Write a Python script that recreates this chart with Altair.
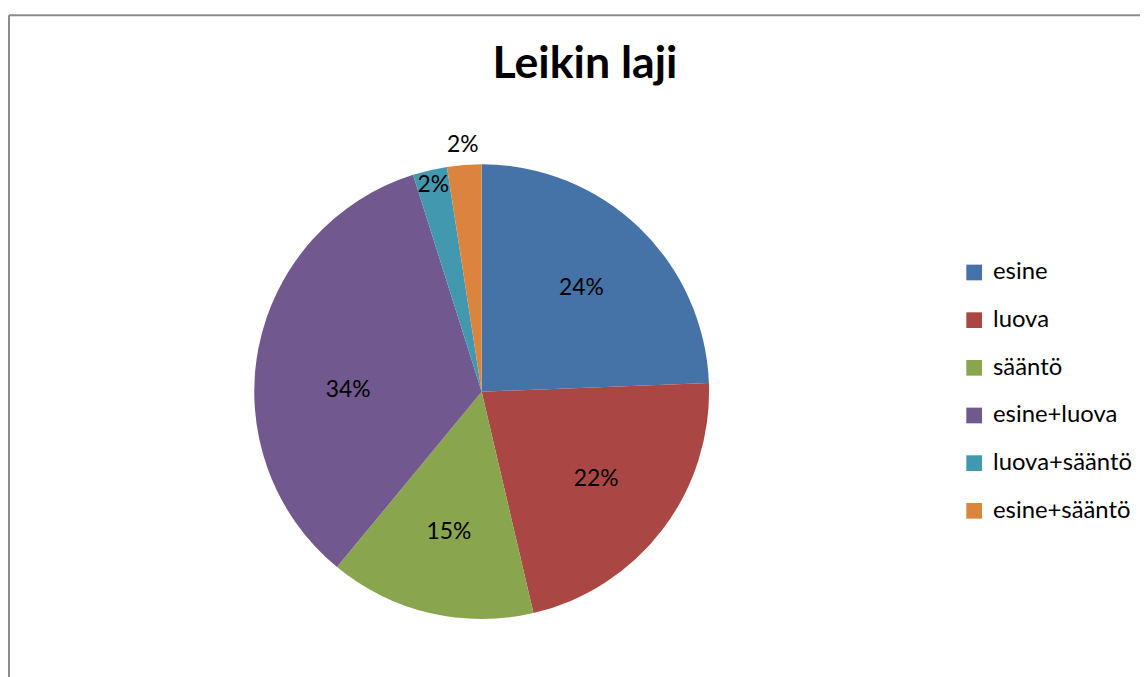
import json
import altair as alt
import pandas as pd

categories = ["esine", "luova", "sääntö", "esine+luova", "luova+sääntö", "esine+sääntö"]
counts = [10, 9, 6, 14, 1, 1]
colors = ["#4572A7", "#AA4643", "#89A54E", "#71588F", "#4198AF", "#DB843D"]
title_text = "Leikin laji"

df = pd.DataFrame({"cat": categories, "count": counts, "idx": list(range(len(categories)))})

CX, CY, R = 477, 384, 229
FONT = "Lato"

base = alt.Chart(df).transform_joinaggregate(total="sum(count)").transform_calculate(
    pct="format(datum.count / datum.total, '.0%')"
)

theta = alt.Theta("count:Q", stack=True)
order = alt.Order("idx:Q", sort="ascending")

pie = base.mark_arc(radius=R, strokeWidth=0).encode(
    theta=theta,
    order=order,
    color=alt.Color(
        "cat:N",
        scale=alt.Scale(domain=categories, range=colors),
        legend=alt.Legend(
            title=None, orient="none", legendX=961, legendY=252,
            symbolType="square", symbolSize=250, symbolStrokeWidth=0,
            labelFontSize=24, labelFont=FONT, labelColor="black",
            rowPadding=24, labelOffset=7, padding=0,
        ),
    ),
    x=alt.value(CX),
    y=alt.value(CY),
)


def labels(cats, r, dy=0):
    expr = f"indexof({json.dumps(cats, ensure_ascii=False)}, datum.cat) >= 0 ? datum.pct : ''"
    return base.transform_calculate(lab=expr).mark_text(
        radius=r, fontSize=23, font=FONT, color="black", dy=dy
    ).encode(
        theta=theta, order=order, detail="cat:N", text="lab:N",
        x=alt.value(CX), y=alt.value(CY),
    )


lab_main = labels(["esine", "luova", "sääntö"], 145)
lab_purple = labels(["esine+luova"], 137, dy=24)
lab_teal = labels(["luova+sääntö"], 214)
lab_orange = labels(["esine+sääntö"], 249)

one = pd.DataFrame({"t": [title_text]})
title = alt.Chart(one).mark_text(
    font=FONT, fontSize=45, fontWeight="bold", baseline="alphabetic", color="black"
).encode(text="t:N", x=alt.value(581), y=alt.value(68))

border_left = alt.Chart(one).mark_rule(color="#8c8c8c", strokeWidth=2).encode(
    x=alt.value(1), y=alt.value(5), y2=alt.value(700)
)
border_top = alt.Chart(one).mark_rule(color="#8c8c8c", strokeWidth=2).encode(
    x=alt.value(1), x2=alt.value(1200), y=alt.value(5)
)

chart = alt.layer(
    border_left, border_top, pie, lab_main, lab_purple, lab_teal, lab_orange, title
).properties(
    width=1140, height=669, autosize="none", padding=0
).configure_view(strokeWidth=0)

chart.save("out.html", embed_options={"renderer": "svg", "actions": False})
